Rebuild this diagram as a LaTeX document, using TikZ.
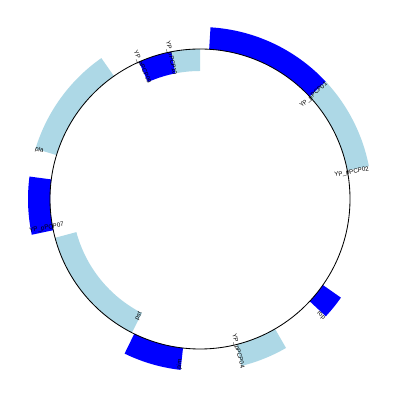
\documentclass[tikz,border=0pt]{standalone}
\usepackage{fontspec}
\setmainfont{Liberation Sans}
\definecolor{lb}{RGB}{173,216,230}
\definecolor{bl}{RGB}{0,0,255}
\newcommand\ringsector[5]{\fill[#1] (#2:#4) arc[start angle=#2, end angle=#3, radius=#4] -- (#3:#5) arc[start angle=#3, end angle=#2, radius=#5] -- cycle;}
\tikzset{lbl/.style={inner sep=0pt, font=\fontsize{4.4}{5}\selectfont}}
\begin{document}
\begin{tikzpicture}
\fill[white] (0,0) rectangle (10,10);
\useasboundingbox (0,0) rectangle (10,10);
\begin{scope}[shift={(5,5.025)}]
% outer track
\ringsector{bl}{43}{86.5}{3.75cm}{4.3cm}
\ringsector{lb}{11}{43}{3.75cm}{4.3cm}
\ringsector{bl}{-43}{-35}{3.75cm}{4.3cm}
\ringsector{lb}{-76}{-60}{3.75cm}{4.3cm}
\ringsector{bl}{-116}{-96.5}{3.75cm}{4.3cm}
\ringsector{bl}{172.5}{192}{3.75cm}{4.3cm}
\ringsector{lb}{125}{163}{3.75cm}{4.3cm}
% inner track
\ringsector{lb}{195}{243}{3.2cm}{3.75cm}
\ringsector{bl}{101}{114}{3.2cm}{3.75cm}
\ringsector{lb}{90}{101}{3.2cm}{3.75cm}
% backbone
\draw[black, line width=0.6pt] (0,0) circle[radius=3.75cm];
\node (c) at (0,0) {};
% labels
\node[lbl, rotate=42.4] (l01) at (42.4:3.85cm) {YP\_pPCP01};
\node[lbl, rotate=10] (l02) at (10:3.85cm) {YP\_pPCP02};
\node[lbl, rotate=-44] (l03) at (-44:4.2cm) {rop};
\node[lbl, rotate=-76] (l04) at (-76:3.92cm) {YP\_pPCP04};
\node[lbl, rotate=83] (l05) at (263:4.17cm) {pim};
\node[lbl, rotate=62] (l06) at (242.3:3.3cm) {pst};
\node[lbl, rotate=10.7] (l07) at (190.7:3.9cm) {YP\_pPCP07};
\node[lbl, rotate=-17] (l08) at (163:4.2cm) {pla};
\node[lbl, rotate=-66] (l09) at (113.7:3.6cm) {YP\_pPCP09};
\node[lbl, rotate=-78.4] (l10) at (101.6:3.6cm) {YP\_pPCP10};
\end{scope}
\end{tikzpicture}
\end{document}
